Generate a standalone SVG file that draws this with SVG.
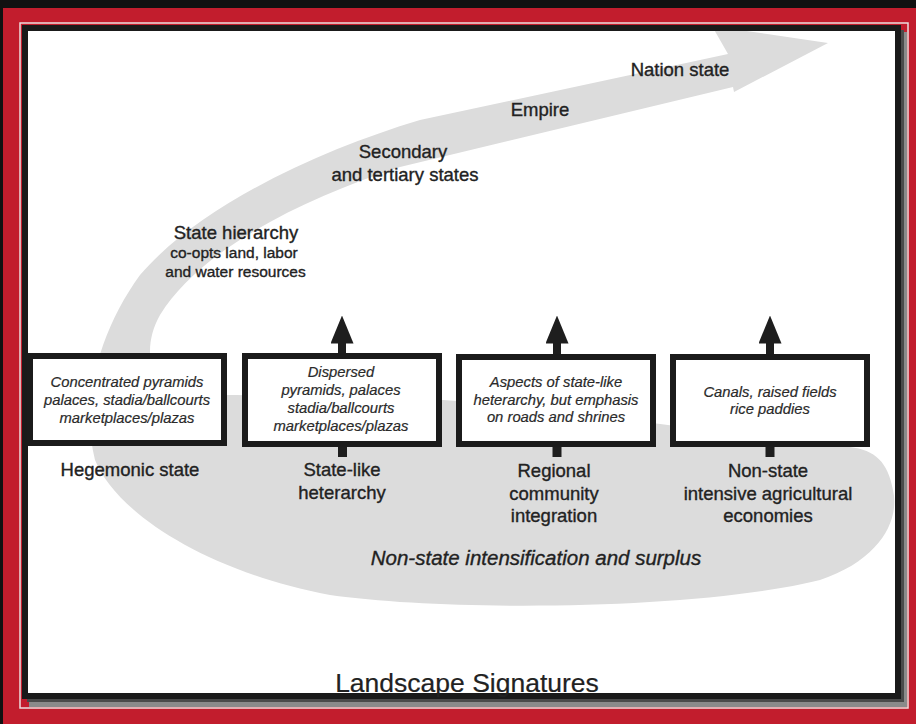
<svg xmlns="http://www.w3.org/2000/svg" width="916" height="724" viewBox="0 0 916 724">
  <style>
    .lbl { font-family: "Liberation Sans", Arial, sans-serif; fill: #222; stroke: #222; stroke-width: 0.35; text-anchor: middle; }
    .big { font-size: 18.5px; }
    .mid { font-size: 15.5px; }
    .box { fill: #fff; stroke: #1b1b1b; stroke-width: 6; }
    .bt { font-family: "Liberation Sans", Arial, sans-serif; font-style: italic; font-size: 14.8px; fill: #2a2a2a; stroke: #2a2a2a; stroke-width: 0.2; text-anchor: middle; }
    .shaft { stroke: #1e1e1e; stroke-width: 8; fill: none; }
    .stub { stroke: #1e1e1e; stroke-width: 9; fill: none; }
  </style>
  <defs>
    <marker id="head" markerUnits="userSpaceOnUse" viewBox="0 0 28 23" markerWidth="28" markerHeight="23" refX="0.5" refY="11.5" orient="auto">
      <path d="M0,0 L28,11.5 L0,23 Z" fill="#1e1e1e"/>
    </marker>
  </defs>

  <!-- frame -->
  <rect x="0" y="0" width="916" height="724" fill="#c21d2d"/>
  <rect x="0" y="0" width="916" height="8" fill="#111"/>
  <rect x="0" y="0" width="3" height="724" fill="#111"/>
  <rect x="20" y="23" width="888" height="685" fill="none" stroke="#ecdede" stroke-width="1.5"/>
  <rect x="29" y="32" width="878" height="675" fill="#8a8a8a"/>
  <rect x="27" y="30" width="877" height="672" fill="#4a4a4a"/>
  <rect x="25" y="28" width="873" height="668" fill="#fff"/>

  <!-- swoosh -->
  <g id="swoosh">
    <path fill="#dcdcdc" d="M828,43 L712,26 L728,54 L420,120 C320,150 200,205 140,275 C100,330 80,400 95,460 C115,510 200,570 330,595 C450,612 700,610 820,580 C880,560 900,520 893,490 C888,462 875,450 850,447 C700,430 520,405 443,400 C340,395 240,395 190,395 C150,395 140,350 160,315 C200,250 300,200 400,167 L733,87 L734,92 Z"/>
  </g>

  <!-- panel border -->
  <rect x="25" y="28" width="873" height="668" fill="none" stroke="#1a1a1a" stroke-width="6"/>

  <!-- stage labels -->
  <g id="stages">
    <text class="lbl big" x="680" y="76">Nation state</text>
    <text class="lbl big" x="540" y="116">Empire</text>
    <text class="lbl big" x="403" y="158">Secondary</text>
    <text class="lbl big" x="405" y="181">and tertiary states</text>
    <text class="lbl big" x="236" y="239">State hierarchy</text>
    <text class="lbl mid" x="234" y="258">co-opts land, labor</text>
    <text class="lbl mid" x="235.5" y="277">and water resources</text>
    <text class="lbl" x="536" y="565" style="font-size:20.5px;font-style:italic">Non-state intensification and surplus</text>
  </g>

  <!-- connectors -->
  <g id="connectors">
    <line class="shaft" x1="342" y1="355" x2="342" y2="343" marker-end="url(#head)"/>
    <line class="shaft" x1="557" y1="355" x2="557" y2="343" marker-end="url(#head)"/>
    <line class="shaft" x1="770" y1="355" x2="770" y2="343" marker-end="url(#head)"/>
    <line class="stub" x1="342.5" y1="445" x2="342.5" y2="457"/>
    <line class="stub" x1="557" y1="445" x2="557" y2="457"/>
    <line class="stub" x1="770" y1="445" x2="770" y2="457"/>
  </g>

  <!-- nodes -->
  <g id="hegemonic">
    <rect class="box" x="30" y="356" width="194" height="87"/>
    <text class="bt" x="127" y="387">Concentrated pyramids</text>
    <text class="bt" x="127" y="405">palaces, stadia/ballcourts</text>
    <text class="bt" x="127" y="423">marketplaces/plazas</text>
    <text class="lbl big" x="130" y="476">Hegemonic state</text>
  </g>
  <g id="heterarchy">
    <rect class="box" x="245" y="356" width="194" height="88"/>
    <text class="bt" x="341" y="377">Dispersed</text>
    <text class="bt" x="341" y="395">pyramids, palaces</text>
    <text class="bt" x="341" y="413">stadia/ballcourts</text>
    <text class="bt" x="341" y="430.5">marketplaces/plazas</text>
    <text class="lbl big" x="342" y="476">State-like</text>
    <text class="lbl big" x="342" y="498.5">heterarchy</text>
  </g>
  <g id="regional">
    <rect class="box" x="459" y="357" width="194" height="87"/>
    <text class="bt" x="556" y="387">Aspects of state-like</text>
    <text class="bt" x="556" y="404.5">heterarchy, but emphasis</text>
    <text class="bt" x="556" y="422">on roads and shrines</text>
    <text class="lbl big" x="554" y="477">Regional</text>
    <text class="lbl big" x="554" y="499.5">community</text>
    <text class="lbl big" x="554" y="522">integration</text>
  </g>
  <g id="nonstate">
    <rect class="box" x="673" y="357" width="194" height="87"/>
    <text class="bt" x="770" y="397">Canals, raised fields</text>
    <text class="bt" x="770" y="414">rice paddies</text>
    <text class="lbl big" x="768" y="477">Non-state</text>
    <text class="lbl big" x="768" y="499.5">intensive agricultural</text>
    <text class="lbl big" x="768" y="522">economies</text>
  </g>

  <text class="lbl" x="467" y="692" style="font-size:26.5px;stroke-width:0.2">Landscape Signatures</text>
</svg>
